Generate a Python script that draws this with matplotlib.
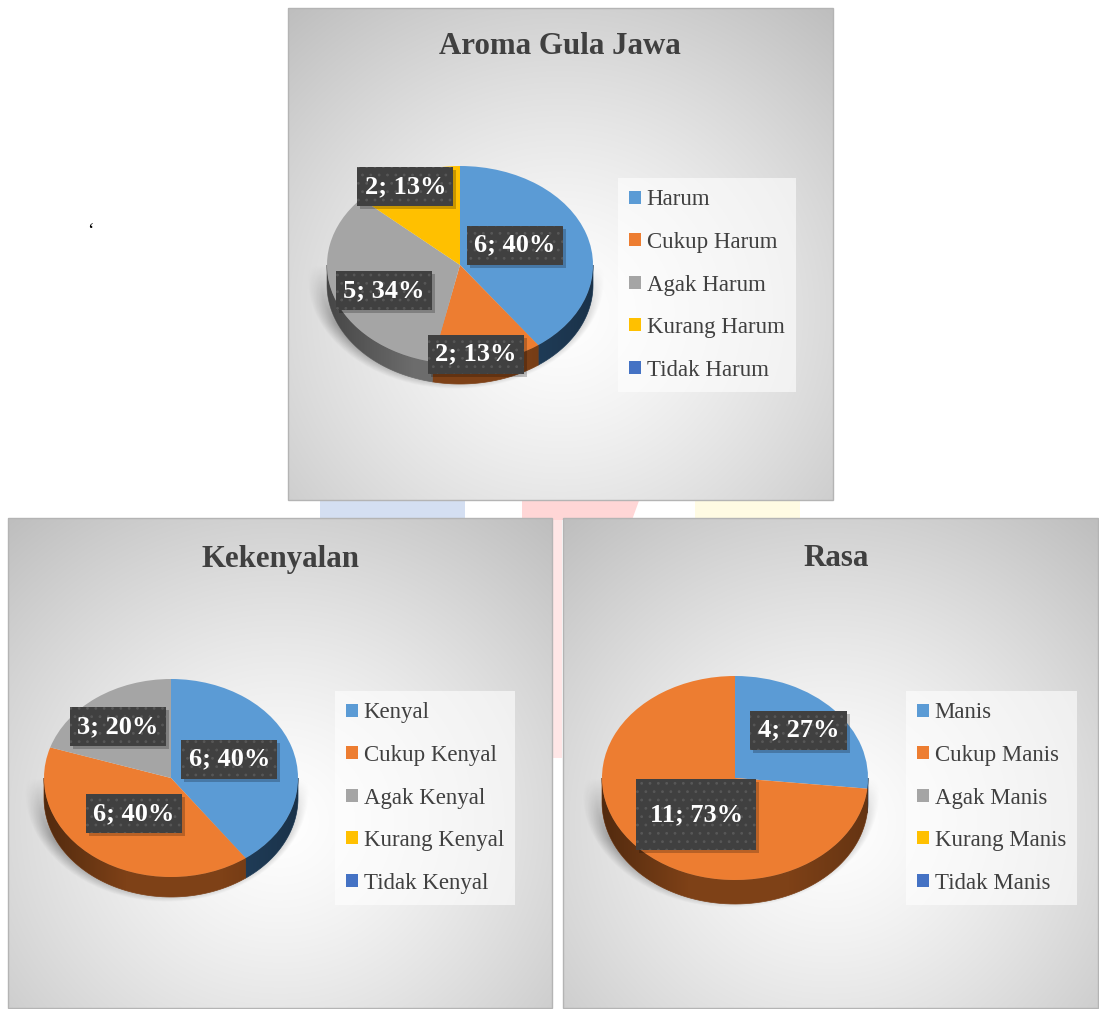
import numpy as np
import matplotlib.pyplot as plt
from matplotlib.patches import Polygon, Rectangle

plt.rcParams['font.family'] = ['Liberation Serif', 'DejaVu Serif']
plt.rcParams['hatch.linewidth'] = 0.8

W, H = 1099, 1009

# data
aroma_cats = ['Harum', 'Cukup Harum', 'Agak Harum', 'Kurang Harum', 'Tidak Harum']
aroma_vals = [6, 2, 5, 2, 0]
aroma_pct = [40, 13, 34, 13, 0]

kenyal_cats = ['Kenyal', 'Cukup Kenyal', 'Agak Kenyal', 'Kurang Kenyal', 'Tidak Kenyal']
kenyal_vals = [6, 6, 3, 0, 0]
kenyal_pct = [40, 40, 20, 0, 0]

rasa_cats = ['Manis', 'Cukup Manis', 'Agak Manis', 'Kurang Manis', 'Tidak Manis']
rasa_vals = [4, 11, 0, 0, 0]
rasa_pct = [27, 73, 0, 0, 0]

top_colors = ['#5B9BD5', '#ED7D31', '#A5A5A5', '#FFC000', '#4472C4']
side_colors = ['#213f5c', '#7e4117', '#6c6c6c', '#8a6800', '#24406e']

fig = plt.figure(figsize=(W / 100, H / 100), dpi=100)
bg = fig.add_axes([0, 0, 1, 1])
bg.set_xlim(0, W)
bg.set_ylim(H, 0)
bg.axis('off')

# faint watermark behind the panels
bg.add_patch(Rectangle((320, 498), 145, 22, color='#d4dff2', lw=0))
bg.add_patch(Polygon([(522, 498), (640, 498), (632, 520), (522, 520)], color='#ffd6d6', lw=0))
bg.add_patch(Rectangle((695, 498), 105, 22, color='#fffbe3', lw=0))
bg.add_patch(Rectangle((553, 518), 9, 240, color='#ffd6d6', lw=0, alpha=0.6))


def panel_bg(x0, y0, x1, y1):
    n = 200
    yy, xx = np.mgrid[0:n, 0:n] / (n - 1)
    dist = np.sqrt(((xx - 0.5) * 2) ** 2 + ((yy - 0.62) * 1.9) ** 2) / np.sqrt(2)
    g = np.clip(255 - 58 * dist ** 1.3, 185, 255) / 255
    img = np.dstack([g, g, g])
    bg.imshow(img, extent=(x0, x1, y1, y0), aspect='auto', interpolation='bilinear', zorder=1)
    bg.add_patch(Rectangle((x0, y0), x1 - x0, y1 - y0, fill=False, edgecolor='#b4b4b4', lw=1, zorder=2))


def pie_shadow(cx, cy, rx, ry, dep):
    n = 300
    x0, x1 = cx - rx - 30, cx + rx + 30
    y0, y1 = cy - ry, cy + ry + dep + 30
    yy, xx = np.mgrid[0:n, 0:n] / (n - 1)
    px = x0 + xx * (x1 - x0)
    py = y0 + yy * (y1 - y0)
    r = np.sqrt(((px - cx + 4) / (rx + 4)) ** 2 + ((py - cy - dep * 0.6) / (ry + 4)) ** 2)
    a = 0.3 * np.clip((1.09 - r) / 0.1, 0, 1)
    a *= np.clip((py - cy) / (ry * 0.6), 0, 1)
    img = np.zeros((n, n, 4))
    img[..., 3] = a
    bg.imshow(img, extent=(x0, x1, y1, y0), aspect='auto', interpolation='bilinear', zorder=3)


def lower_parts(t1, t2):
    parts = []
    for base in (-540, -180, 180):
        lo = max(t1, base)
        hi = min(t2, base + 180)
        if hi > lo:
            parts.append((lo, hi))
    return parts


def draw_chart(vals, pct, cats, title, panel, geom, leg_xy, title_xy, label_uv, boxes):
    panel_bg(*panel)
    cx, cy, rx, ry, dep = geom
    pie_shadow(cx, cy, rx, ry, dep)
    d = dep / ry
    m = 3
    ax = fig.add_axes([(cx - rx - m) / W, 1 - (cy + ry + dep + m) / H,
                       (2 * rx + 2 * m) / W, (2 * ry + dep + 2 * m) / H])
    wedges, _ = ax.pie(vals, colors=top_colors, startangle=90, counterclock=False,
                       radius=1, wedgeprops=dict(linewidth=0, zorder=3))

    # 3d side
    for w, c in zip(wedges, side_colors):
        for lo, hi in lower_parts(w.theta1, w.theta2):
            t = np.radians(np.linspace(lo, hi, 80))
            xs = np.concatenate([np.cos(t), np.cos(t[::-1])])
            ys = np.concatenate([np.sin(t), np.sin(t[::-1]) - d])
            ax.add_patch(Polygon(np.column_stack([xs, ys]), closed=True, facecolor=c,
                                 edgecolor=c, lw=0.5, zorder=1))
    t = np.radians(np.linspace(180, 360, 200))
    band = Polygon(np.column_stack([np.concatenate([np.cos(t), np.cos(t[::-1])]),
                                    np.concatenate([np.sin(t), np.sin(t[::-1]) - d])]),
                   closed=True, facecolor='none', edgecolor='none')
    ax.add_patch(band)
    xs = np.linspace(-1, 1, 200)
    shade = np.zeros((1, 200, 4))
    shade[..., 3] = 0.35 * np.clip(-xs - 0.35, 0, 1) / 0.65 + 0.2 * np.clip(xs - 0.4, 0, 1) / 0.6
    im = ax.imshow(shade, extent=(-1, 1, -1 - d, 0), aspect='auto', zorder=2,
                   interpolation='bilinear')
    im.set_clip_path(band)

    # data labels
    k = 0
    for v, p in zip(vals, pct):
        if v == 0:
            continue
        u, vv = label_uv[k]
        bw, bh = boxes[k][0] / rx, boxes[k][1] / ry
        ax.add_patch(Rectangle((u - bw / 2 + 3 / rx, vv - bh / 2 - 3 / ry), bw, bh,
                               facecolor='black', alpha=0.22, lw=0, zorder=4, clip_on=False))
        ax.add_patch(Rectangle((u - bw / 2, vv - bh / 2), bw, bh, facecolor='#404040',
                               edgecolor='#575757', lw=0, hatch='..', zorder=5, clip_on=False))
        ax.text(u, vv, f"{v}; {p}%", ha='center', va='center', fontsize=19,
                fontweight='bold', color='white', zorder=6)
        k += 1

    ax.set_xlim(-1 - m / rx, 1 + m / rx)
    ax.set_ylim(-1 - d - m / ry, 1 + m / ry)
    ax.set_aspect('auto')
    ax.axis('off')

    lx, ly = leg_xy
    ax.legend(wedges, cats, loc='upper left', bbox_to_anchor=(lx / W, 1 - ly / H),
              bbox_transform=fig.transFigure, frameon=True, fancybox=False,
              framealpha=0.6, facecolor='white', edgecolor='none', fontsize=16.5,
              labelcolor='#404040', handlelength=0.5, handleheight=0.5,
              handletextpad=0.25, labelspacing=0.94, borderpad=0.5, borderaxespad=0)

    tx, ty = title_xy
    fig.text(tx / W, 1 - ty / H, title, ha='center', va='center', fontsize=22.2,
             fontweight='bold', color='#404040')


draw_chart(aroma_vals, aroma_pct, aroma_cats, 'Aroma Gula Jawa',
           (288, 8, 833, 500), (460, 265, 133, 99, 20), (618, 178), (560, 47),
           [(0.41, 0.20), (0.12, -0.90), (-0.57, -0.26), (-0.41, 0.79)],
           [(96, 39), (96, 39), (96, 39), (96, 39)])
draw_chart(kenyal_vals, kenyal_pct, kenyal_cats, 'Kekenyalan',
           (8, 518, 552, 1008), (171, 778, 127, 99, 20), (335, 691), (280, 559),
           [(0.46, 0.19), (-0.29, -0.36), (-0.42, 0.52)],
           [(96, 39), (96, 39), (96, 39)])
draw_chart(rasa_vals, rasa_pct, rasa_cats, 'Rasa',
           (563, 518, 1098, 1008), (735, 778, 133, 102, 24), (906, 691), (836, 559),
           [(0.48, 0.47), (-0.29, -0.36)],
           [(97, 39), (120, 71)])

fig.text(90 / W, 1 - 232 / H, '\u2018', ha='center', va='center', fontsize=14, color='black')

fig.savefig('out.png', dpi=100)
